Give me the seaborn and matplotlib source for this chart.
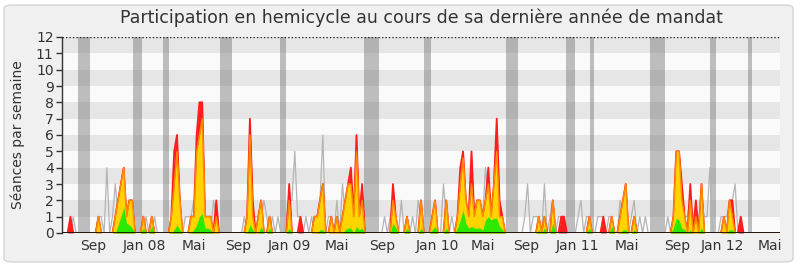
import numpy as np
import matplotlib
matplotlib.use("Agg")
import matplotlib.pyplot as plt
from matplotlib.patches import FancyBboxPatch
import seaborn as sns

# ---------------- data (weekly values, week 0 = mid June 2007) ----------------
N_WEEKS = 256

red_weeks = [3, 13, 19, 20, 21, 22, 23, 24, 25, 29, 32, 39, 40, 41, 42, 46, 47, 48, 49, 50,
             51, 52, 53, 55, 66, 67, 68, 70, 71, 74, 81, 85, 90, 91, 92, 93, 96, 98, 100, 101,
             102, 103, 104, 105, 106, 107, 118, 119, 123, 128, 132, 133, 137, 141, 142, 143, 144,
             145, 146, 147, 148, 149, 150, 151, 152, 153, 154, 155, 156, 157, 170, 172, 175, 178,
             179, 188, 193, 196, 199, 200, 201, 204, 218, 219, 220, 221, 222, 224, 226, 228, 236,
             238, 239, 242]
red_values = [1, 1, 1, 2, 3, 4, 1, 2, 2, 1, 1, 1, 5, 6, 2, 1, 1, 6, 8, 8,
              1, 1, 1, 2, 1, 7, 2, 1, 2, 1, 3, 1, 1, 1, 2, 3, 1, 1, 1, 2,
              3, 4, 1, 6, 1, 3, 3, 1, 1, 2, 1, 2, 2, 1, 4, 5, 2,
              1, 5, 1, 2, 2, 1, 2, 4, 1, 3, 7, 2, 1, 1, 1, 2, 1,
              1, 1, 1, 1, 1, 2, 3, 1, 1, 5, 5, 3, 1, 3, 2, 3, 1,
              2, 2, 1]

yellow_weeks = [13, 19, 20, 21, 22, 23, 24, 25, 29, 32, 39, 40, 41, 42, 46, 47, 48, 49, 50,
                51, 52, 53, 55, 66, 67, 68, 70, 71, 74, 81, 90, 91, 92, 93, 96, 98, 100, 101,
                102, 103, 104, 105, 106, 107, 118, 119, 123, 128, 132, 133, 137, 141, 142, 143,
                144, 145, 146, 147, 148, 149, 150, 151, 152, 153, 154, 155, 156, 157, 170, 172,
                175, 188, 196, 199, 200, 201, 204, 218, 219, 220, 221, 222, 224, 226, 228, 236,
                238, 239]
yellow_values = [1, 1, 2, 3, 4, 1, 2, 2, 1, 1, 1, 3, 5, 2, 1, 1, 5, 6, 7,
                 1, 1, 1, 1, 1, 6, 1, 1, 2, 1, 2, 1, 1, 2, 3, 1, 1, 1, 2,
                 3, 3, 1, 5, 1, 2, 2, 1, 1, 2, 1, 2, 2, 1, 3, 4.6,
                 2, 1, 3, 1, 2, 2, 1, 2, 3, 1, 3, 5, 1, 1, 1, 1,
                 2, 1, 1, 1, 2, 3, 1, 1, 5, 5, 2, 1, 2, 1, 3, 1,
                 2, 1]

green_weeks = [20, 21, 22, 23, 24, 25, 29, 32, 40, 41, 42, 47, 48, 49, 50, 51, 52, 53, 67, 68,
               71, 74, 81, 92, 93, 101, 102, 103, 105, 106, 107, 118, 119, 123, 128, 132, 133,
               137, 141, 142, 143, 144, 145, 146, 147, 148, 149, 150, 151, 152, 153, 154, 155,
               156, 157, 170, 172, 175, 188, 196, 200, 201, 204, 218, 219, 220, 221, 222, 224,
               228, 238, 239]
green_values = [0.5, 1.0, 1.6, 0.6, 0.5, 0.3, 0.3, 0.4, 0.2, 0.5, 0.2, 0.2, 0.5, 1.0, 1.2, 0.3, 0.3, 0.2, 0.5, 0.2,
                0.4, 0.3, 0.3, 0.2, 0.2, 0.2, 0.3, 0.3, 0.4, 0.2, 0.3, 0.6, 0.3, 0.3, 0.3, 0.2, 0.4,
                0.3, 0.3, 0.8, 1.4, 0.6, 0.3, 0.4, 0.3, 0.3, 0.3, 0.2, 0.8, 1.0, 0.8, 0.9, 0.9,
                0.4, 0.2, 0.2, 0.3, 0.6, 0.3, 0.4, 0.2, 0.2, 0.2, 0.3, 0.9, 0.8, 0.3, 0.2, 0.2,
                0.3, 0.2, 0.2]

median_weeks = [4, 13, 14, 16, 18, 19, 20, 21, 22, 23, 24, 25, 30, 33, 39, 40, 41, 42, 44, 45,
                46, 47, 48, 49, 50, 51, 52, 54, 55, 65, 67, 68, 69, 70, 71, 72, 73, 75, 77, 80,
                81, 82, 83, 84, 85, 87, 89, 91, 92, 93, 95, 96, 98, 100, 101, 102, 103, 104, 105,
                106, 107, 115, 117, 118, 119, 121, 123, 125, 127, 128, 132, 133, 136, 137, 139,
                141, 142, 143, 144, 145, 146, 147, 148, 149, 150, 151, 152, 153, 154, 155, 156,
                157, 165, 166, 168, 169, 170, 172, 174, 175, 177, 178, 184, 185, 187, 188, 191,
                192, 193, 195, 196, 199, 200, 201, 203, 204, 206, 208, 216, 218, 219, 220, 221,
                222, 223, 224, 225, 226, 227, 228, 229, 230, 231, 235, 236, 237, 238, 239, 240, 242]
median_values = [1, 1, 1, 4, 1, 3, 1, 2, 2, 1, 1, 1, 1, 1, 1, 2, 2, 1, 1, 1,
                 1, 2, 2, 3, 3, 1, 1, 2, 1, 1, 2, 1, 1, 1, 1, 2, 1, 1, 1, 1,
                 2, 2, 5, 1, 1, 1, 1, 1, 2, 6, 1, 1, 2, 3, 1, 2, 2, 1, 3,
                 1, 2, 1, 1, 2, 1, 2, 1, 1, 2, 1, 1, 1, 3, 1, 1,
                 1, 2, 2, 1, 1, 2, 1, 2, 1, 1, 4, 2, 1, 2, 2, 1,
                 1, 1, 3, 1, 1, 1, 3, 1, 2, 1, 1, 1, 2, 1, 1, 1,
                 1, 1, 1, 1, 2, 1, 1, 1, 2, 1, 1, 1, 1, 2, 2, 1,
                 1, 1, 2, 1, 1, 1, 2, 1, 1, 4, 1, 1, 1, 2, 2, 3, 1]

# parliamentary holidays (start week, end week)
holidays = [(5.6, 10.0), (25.4, 28.6), (35.9, 38.1), (56.3, 60.6), (77.7, 79.9),
            (107.7, 113.0), (129.1, 131.5), (158.3, 162.6), (179.7, 182.9),
            (188.2, 189.6), (209.6, 215.0), (231.0, 233.2), (244.6, 246.0)]

tick_weeks = [11.05, 29.2, 47.1, 62.7, 80.9, 98.0, 114.1, 133.7, 150.1, 165.4,
              183.6, 201.4, 219.3, 235.3, 252.4]
tick_labels = ["Sep", "Jan 08", "Mai", "Sep", "Jan 09", "Mai", "Sep", "Jan 10", "Mai",
               "Sep", "Jan 11", "Mai", "Sep", "Jan 12", "Mai"]

title = "Participation en hemicycle au cours de sa dernière année de mandat"
ylabel = "Séances par semaine"

# ---------------- build series ----------------
weeks = np.arange(N_WEEKS + 1)


def dense(ws, vs):
    a = np.zeros(N_WEEKS + 1)
    a[np.array(ws)] = np.array(vs, dtype=float)
    return a


red = dense(red_weeks, red_values)
yellow = dense(yellow_weeks, yellow_values)
green = dense(green_weeks, green_values)
median = dense(median_weeks, median_values)

# ---------------- plot ----------------
sns.set_theme(style="white")
plt.rcParams["font.family"] = ["DejaVu Sans"]

fig = plt.figure(figsize=(8, 2.67), dpi=100, facecolor="white")
fig.patches.append(FancyBboxPatch((4 / 800, 5 / 267), 789 / 800, 257 / 267,
                                  boxstyle="round,pad=0,rounding_size=0.012",
                                  transform=fig.transFigure, fc="#f0f0f0",
                                  ec="#d4d4d4", lw=1, zorder=-10))

ax = fig.add_axes([62 / 800, 1 - 233 / 267, 718 / 800, 196 / 267])
ax.set_facecolor("#fafafa")
ax.patch.set_alpha(1)

for k in range(6):
    ax.axhspan(2 * k + 1, 2 * k + 2, color="#e6e6e6", lw=0, zorder=0)
for s, e in holidays:
    ax.axvspan(s, e, color="#6a6a6a", alpha=0.42, lw=0, zorder=1)

sns.lineplot(x=weeks, y=median, ax=ax, color="#b4b4b4", lw=0.9, zorder=2)
ax.fill_between(weeks, 0, red, color="#ff1c1c", lw=0, zorder=3)
sns.lineplot(x=weeks, y=red, ax=ax, color="#ff1c1c", lw=1.3, zorder=3)
ax.fill_between(weeks, 0, yellow, color="#ffd400", lw=0, zorder=4)
sns.lineplot(x=weeks, y=yellow, ax=ax, color="#ff8a00", lw=1.0, zorder=5)
ax.fill_between(weeks, 0, green, color="#2de800", lw=0, zorder=6)
ax.axhline(0, color="#111111", lw=1.3, zorder=7)
ax.axhline(12, color="#222222", lw=1.0, ls=(0, (1, 1.5)), zorder=7)

ax.set_xlim(0, N_WEEKS)
ax.set_ylim(0, 12)
ax.set_yticks(range(13))
ax.set_yticklabels([str(i) for i in range(13)], fontsize=10, color="#333333")
ax.set_xticks(tick_weeks)
ax.set_xticklabels(tick_labels, fontsize=10, color="#333333")
ax.tick_params(axis="y", length=4, width=1, color="#333333", pad=2, left=True)
ax.tick_params(axis="x", length=0, pad=4)
ax.set_xlabel("")
ax.set_ylabel("")

for side in ["top", "right", "bottom"]:
    ax.spines[side].set_visible(False)
ax.spines["left"].set_color("#333333")
ax.spines["left"].set_linewidth(1.0)

fig.text(421 / 800, 1 - 18 / 267, title, ha="center", va="center",
         fontsize=12.5, color="#333333")
fig.text(18 / 800, 1 - 135 / 267, ylabel, ha="center", va="center",
         rotation=90, fontsize=10, color="#333333")

fig.savefig("out.png", dpi=100, facecolor="white")
